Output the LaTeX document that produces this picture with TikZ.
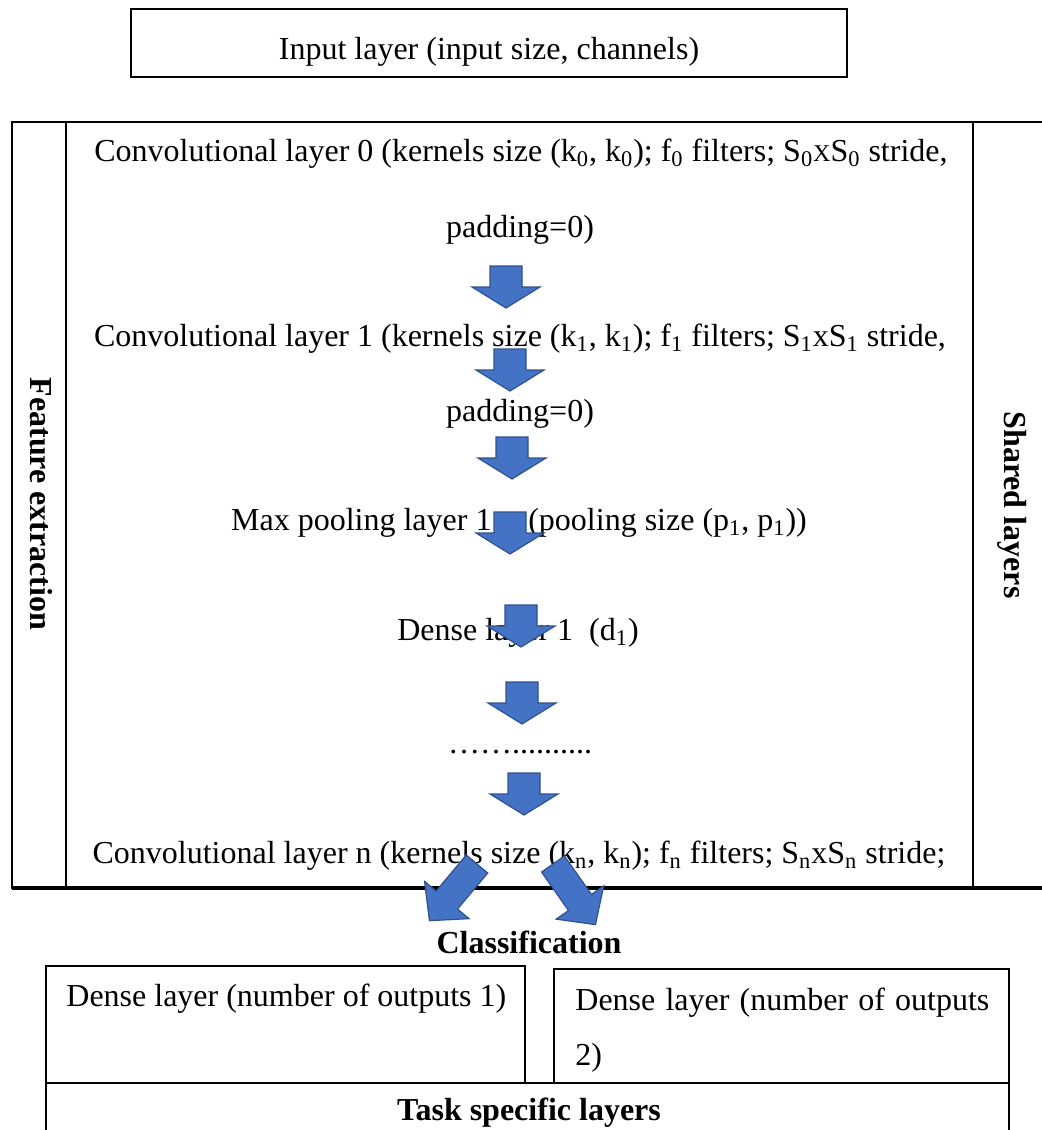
\documentclass[tikz,border=0pt]{standalone}
\usepackage{fontspec}
\setmainfont{Liberation Serif}
\usepackage{xcolor}
\usetikzlibrary{positioning}
\tikzset{>=latex}
\definecolor{arrowfill}{HTML}{4472C4}
\definecolor{arrowline}{HTML}{2F528F}
\tikzset{
  layer/.style={font=\fontsize{16pt}{19pt}\selectfont, inner sep=0pt, text height=11pt, text depth=3pt},
  title/.style={layer, font=\fontsize{16pt}{19pt}\selectfont\bfseries},
  frame/.style={line width=1.2pt},
  pics/downarrow/.style={code={
    \filldraw[fill=arrowfill, draw=arrowline, line width=0.6pt] (-16,0) -- (16,0) -- (16,21) -- (34,21) -- (0,42) -- (-34,21) -- (-16,21) -- cycle;
  }},
  pics/sidearrow/.style={code={
    \filldraw[fill=arrowfill, draw=arrowline, line width=0.6pt] (-14,0) -- (14,0) -- (14,47) -- (29,47) -- (0,74) -- (-29,47) -- (-14,47) -- cycle;
  }}
}
\newcommand{\smallx}{{\fontsize{12pt}{12pt}\selectfont X}}
\begin{document}
\begin{tikzpicture}[x=0.5pt, y=-0.5pt]
  \useasboundingbox (0,0) rectangle (1041,1130);
  % input
  \node[draw, line width=1.3pt, minimum width=358pt, minimum height=34pt] (input-box) at (489,43) {};
  \node[layer] (input-text) at (489,51) {Input layer (input size, channels)};
  % shared part
  \draw[frame] (12,122) rectangle (1060,888);
  \draw[frame] (66,122) -- (66,888);
  \draw[frame] (973,122) -- (973,888);
  \draw[line width=1.8pt] (12,888) -- (1060,888);
  \node[title, rotate=-90] (feature) at (38,504) {Feature extraction};
  \node[title, rotate=-90] (shared) at (1012,505) {Shared layers};
  \node[layer] (conv0-a) at (521,153) {Convolutional layer 0 (kernels size (k\textsubscript{0}, k\textsubscript{0}); f\textsubscript{0} filters; S\textsubscript{0}\smallx S\textsubscript{0} stride,};
  \node[layer] (conv0-b) at (520,229) {padding=0)};
  \node[layer] (conv1-a) at (520,338) {Convolutional layer 1 (kernels size (k\textsubscript{1}, k\textsubscript{1}); f\textsubscript{1} filters; S\textsubscript{1}xS\textsubscript{1} stride,};
  \node[layer] (conv1-b) at (520,413) {padding=0)};
  \node[layer] (pool1) at (519,522) {Max pooling layer 1\hspace{0.9em} (pooling size (p\textsubscript{1}, p\textsubscript{1}))};
  \node[layer] (dense1) at (518,632) {Dense layer 1 \ (d\textsubscript{1})};
  \node[layer] (dots) at (520,745) {……..........};
  \node[layer] (convn) at (519,855) {Convolutional layer n (kernels size (k\textsubscript{n}, k\textsubscript{n}); f\textsubscript{n} filters; S\textsubscript{n}xS\textsubscript{n} stride;};
  % task specific part
  \node[title] (classif) at (529,945) {Classification};
  \draw[frame] (46,966) rectangle (525,1083);
  \draw[frame] (554,969) rectangle (1009,1083);
  \draw[frame] (46,1083) rectangle (1009,1140);
  \node[layer, anchor=west] (out1) at (66,998) {Dense layer (number of outputs 1)};
  \node[font=\fontsize{16pt}{27.5pt}\selectfont, inner sep=0pt, anchor=north west, text width=207pt, align=justify] (out2) at (575,988) {Dense layer (number of outputs 2)};
  \node[title] (task) at (529,1112) {Task specific layers};
  % arrows
  \pic at (506,266) {downarrow};
  \pic at (510,349) {downarrow};
  \pic at (512,437) {downarrow};
  \pic at (510,512) {downarrow};
  \pic at (521,605) {downarrow};
  \pic at (522,682) {downarrow};
  \pic at (524,773) {downarrow};
  \pic[rotate=-40] at (477,864) {sidearrow};
  \pic[rotate=35] at (553,864) {sidearrow};
\end{tikzpicture}
\end{document}
